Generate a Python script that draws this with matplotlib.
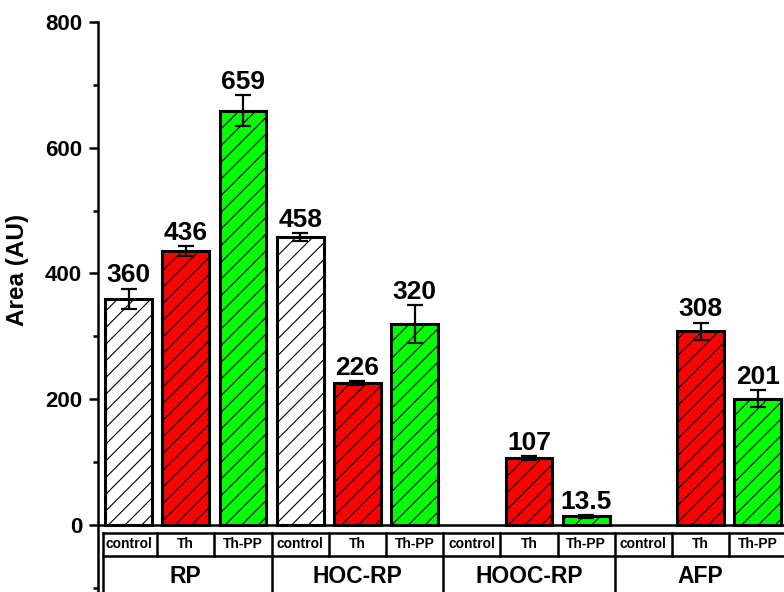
import matplotlib.pyplot as plt
import numpy as np

plt.rcParams['font.family'] = ['Liberation Sans', 'DejaVu Sans']
plt.rcParams['font.weight'] = 'bold'
plt.rcParams['hatch.linewidth'] = 0.8

groups = ['RP', 'HOC-RP', 'HOOC-RP', 'AFP']
treatments = ['control', 'Th', 'Th-PP']
colors = {'control': 'white', 'Th': '#ff0000', 'Th-PP': '#00ff00'}

# mean area per group / treatment (nan = not measured)
area = [
    [360, 436, 659],
    [458, 226, 320],
    [np.nan, 107, 13.5],
    [np.nan, 308, 201],
]
area_err = [
    [16, 8, 25],
    [6, 3, 30],
    [np.nan, 3, 2],
    [np.nan, 14, 14],
]

n_t = len(treatments)
n_slots = len(groups) * n_t
ymin, ymax = -106.6, 800

fig = plt.figure(figsize=(7.84, 5.92), dpi=100)
# axes runs a little past the right edge of the figure
ax = fig.add_axes([98 / 784, 0, 688.4 / 784, 570 / 592])
ax.set_xlim(-0.5 - 2 / 57.2, n_slots - 0.5)
ax.set_ylim(ymin, ymax)

for gi, g in enumerate(groups):
    for ti, t in enumerate(treatments):
        v = area[gi][ti]
        if np.isnan(v):
            continue
        x = gi * n_t + ti
        e = area_err[gi][ti]
        ax.bar(x, v, width=0.82, color=colors[t], edgecolor='k',
               linewidth=2.2, hatch='//', zorder=2)
        ax.errorbar(x, v, yerr=e, fmt='none', ecolor='k', elinewidth=1.6,
                    capsize=5.5, capthick=1.6, zorder=3)
        ax.annotate(f'{v:g}', (x, v + e), xytext=(0, 4.5),
                    textcoords='offset points', ha='center', va='baseline',
                    fontsize=19, fontweight='bold')

# baseline at zero
ax.axhline(0, color='k', lw=1.8, zorder=4)

# category table under the bars
row_top, row_mid = -12.7, -49.3
left = -0.5 + 0.06
lw_tab = 1.8
ax.plot([left, n_slots], [row_top, row_top], color='k', lw=lw_tab)
ax.plot([left, n_slots], [row_mid, row_mid], color='k', lw=lw_tab)
ax.plot([left, left], [row_top, ymin], color='k', lw=lw_tab)
for k in range(1, n_slots):
    xb = k - 0.5
    bottom = ymin if k % n_t == 0 else row_mid
    ax.plot([xb, xb], [row_top, bottom], color='k', lw=lw_tab)
for k in range(n_slots):
    ax.text(k, (row_top + row_mid) / 2, treatments[k % n_t], ha='center',
            va='center', fontsize=10, fontweight='bold')
for gi, g in enumerate(groups):
    ax.text(gi * n_t + (n_t - 1) / 2, -82.7, g, ha='center', va='center',
            fontsize=16.5, fontweight='bold')

for s in ['top', 'right', 'bottom']:
    ax.spines[s].set_visible(False)
ax.spines['left'].set_linewidth(1.8)
ax.set_xticks([])
ax.set_yticks([0, 200, 400, 600, 800])
ax.set_yticks([-100, 100, 300, 500, 700], minor=True)
ax.tick_params(axis='y', which='major', direction='out', length=6.5,
               width=1.8, labelsize=16, pad=5)
ax.tick_params(axis='y', which='minor', direction='out', length=3.5,
               width=1.8)
for lab in ax.get_yticklabels():
    lab.set_fontweight('bold')
ax.set_ylabel('Area (AU)', fontsize=17.5, fontweight='bold')
ax.yaxis.set_label_coords(-0.1, 0.565)

fig.savefig('out.png', dpi=100)
